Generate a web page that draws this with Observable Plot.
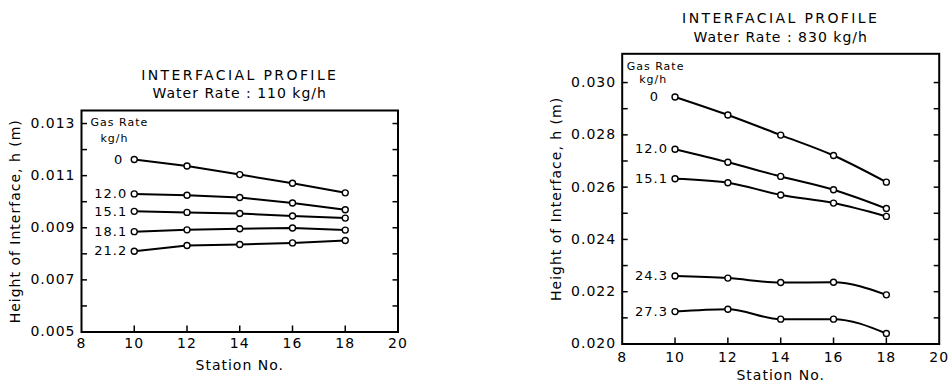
<!DOCTYPE html>
<html><head><meta charset="utf-8">
<script src="https://cdn.jsdelivr.net/npm/d3@7"></script>
<script src="https://cdn.jsdelivr.net/npm/@observablehq/plot@0.6"></script>
<style>
body{margin:0;background:#fff;}
#wrap{position:relative;width:949px;height:383px;overflow:hidden;background:#fff;}
#left{position:absolute;left:0;top:0;}
#right{position:absolute;left:540px;top:0;}
svg text{letter-spacing:1px;}
svg .bigtitle text{letter-spacing:2.4px;}
</style></head><body><div id="wrap"><div id="left"></div><div id="right"></div></div>
<script>
// ---- data ----
const stations = [10, 12, 14, 16, 18];

const leftGasRates = ["0", "12.0", "15.1", "18.1", "21.2"];
const left_0    = [0.01162, 0.01137, 0.01104, 0.01071, 0.01034];
const left_12_0 = [0.01030, 0.01025, 0.01016, 0.00995, 0.00969];
const left_15_1 = [0.00963, 0.00959, 0.00955, 0.00945, 0.00937];
const left_18_1 = [0.00885, 0.00892, 0.00896, 0.00899, 0.00891];
const left_21_2 = [0.00810, 0.00832, 0.00836, 0.00842, 0.00851];

const rightGasRates = ["0", "12.0", "15.1", "24.3", "27.3"];
const right_0    = [0.02945, 0.02876, 0.02799, 0.02721, 0.02619];
const right_12_0 = [0.02745, 0.02695, 0.02641, 0.02590, 0.02518];
const right_15_1 = [0.02632, 0.02617, 0.02570, 0.02539, 0.02488];
const right_24_3 = [0.02260, 0.02252, 0.02235, 0.02236, 0.02188];
const right_27_3 = [0.02124, 0.02133, 0.02095, 0.02095, 0.02040];

const xTickMarks = [10, 12, 14, 16, 18];
const xTickLabels = [8, 10, 12, 14, 16, 18, 20];
const leftYTickMarks = [0.005, 0.006, 0.007, 0.008, 0.009, 0.010, 0.011, 0.012, 0.013];
const leftYTickLabels = [0.005, 0.007, 0.009, 0.011, 0.013];
const rightYTickMarks = [0.020, 0.021, 0.022, 0.023, 0.024, 0.025, 0.026, 0.027, 0.028, 0.029, 0.030];
const rightYTickLabels = [0.020, 0.022, 0.024, 0.026, 0.028, 0.030];

const leftTitle = ["INTERFACIAL PROFILE", "Water Rate : 110 kg/h"];
const rightTitle = ["INTERFACIAL PROFILE", "Water Rate : 830 kg/h"];
const xLabel = "Station No.";
const yLabel = "Height of Interface, h (m)";
const legendTitle = ["Gas Rate", "kg/h"];

function rows(rates, series) {
  const out = [];
  rates.forEach((g, i) => stations.forEach((s, j) => out.push({gas: g, station: s, h: series[i][j]})));
  return out;
}

function panel(cfg) {
  const data = rows(cfg.rates, cfg.series);
  const first = data.filter(d => d.station === stations[0]);
  const F = "DejaVu Sans";
  return Plot.plot({
    width: cfg.width, height: 383,
    marginLeft: cfg.ml, marginRight: cfg.mr, marginTop: cfg.mt, marginBottom: cfg.mb,
    style: {fontFamily: F, fontSize: "14px", color: "black", background: "white", overflow: "visible"},
    x: {domain: [8, 20]},
    y: {domain: cfg.ydomain},
    marks: [
      Plot.axisX({ticks: xTickLabels, tickSize: 0, tickPadding: cfg.xpad, tickFormat: d => String(d), label: null, fontSize: 14}),
      Plot.axisX({ticks: xTickMarks, tickSize: -6, tickFormat: () => "", label: null, strokeWidth: 1.5}),
      Plot.axisY({anchor: "left", ticks: cfg.ylabels, tickSize: 0, tickPadding: 6, tickFormat: d3.format(".3f"), label: null, fontSize: 14}),
      Plot.axisY({anchor: "left", ticks: cfg.yticks, tickSize: -6, tickFormat: () => "", label: null, strokeWidth: 1.5}),
      Plot.axisY({anchor: "right", ticks: cfg.yticks, tickSize: -6, tickFormat: () => "", label: null, strokeWidth: 1.5}),
      Plot.frame({stroke: "black", strokeWidth: 2}),
      Plot.line(data, {x: "station", y: "h", z: "gas", stroke: "black", strokeWidth: 2, curve: cfg.curve}),
      Plot.dot(data, {x: "station", y: "h", r: 3, fill: "white", stroke: "black", strokeWidth: 1.4}),
      Plot.text(first.filter(d => d.gas !== "0"), {x: "station", y: "h", text: "gas", textAnchor: "end", dx: -7, fontSize: 13, fontFamily: F}),
      Plot.text(first.filter(d => d.gas === "0"), {x: "station", y: "h", text: "gas", textAnchor: "end", dx: cfg.zeroDx, fontSize: 13, fontFamily: F}),
      Plot.text([legendTitle[0]], {frameAnchor: "top-left", textAnchor: "start", lineAnchor: "middle", dx: cfg.g1dx, dy: cfg.g1dy, fontSize: 11, fontFamily: F}),
      Plot.text([legendTitle[1]], {frameAnchor: "top-left", textAnchor: "start", lineAnchor: "middle", dx: cfg.g2dx, dy: cfg.g2dy, fontSize: 11, fontFamily: F}),
      Plot.text([cfg.title[0]], {frameAnchor: "top", lineAnchor: "middle", dy: cfg.t1dy, fontSize: 14, fontFamily: F, className: "bigtitle"}),
      Plot.text([cfg.title[1]], {frameAnchor: "top", lineAnchor: "middle", dy: cfg.t2dy, fontSize: 14, fontFamily: F}),
      Plot.text([xLabel], {frameAnchor: "bottom", lineAnchor: "middle", dy: cfg.xldy, fontSize: 14, fontFamily: F}),
      Plot.text([yLabel], {frameAnchor: "left", textAnchor: "middle", lineAnchor: "middle", rotate: -90, dx: -66, fontSize: 14, fontFamily: F})
    ]
  });
}

document.getElementById("left").append(panel({
  width: 420, ml: 81, mr: 22.5, mt: 110, mb: 51.5,
  ydomain: [0.005, 0.0135], yticks: leftYTickMarks, ylabels: leftYTickLabels,
  rates: leftGasRates, series: [left_0, left_12_0, left_15_1, left_18_1, left_21_2],
  curve: "linear", title: leftTitle, xpad: 6, xldy: 34, zeroDx: -11,
  t1dy: -35, t2dy: -17,
  g1dx: 9, g1dy: 12, g2dx: 19, g2dy: 28
}));

document.getElementById("right").append(panel({
  width: 409, ml: 81.7, mr: 10.3, mt: 53.3, mb: 39.5,
  ydomain: [0.020, 0.0311], yticks: rightYTickMarks, ylabels: rightYTickLabels,
  rates: rightGasRates, series: [right_0, right_12_0, right_15_1, right_24_3, right_27_3],
  curve: "monotone-x", title: rightTitle, xpad: 8, xldy: 32, zeroDx: -16,
  t1dy: -35, t2dy: -16,
  g1dx: 4.5, g1dy: 12.5, g2dx: 17, g2dy: 26
}));
</script></body></html>
